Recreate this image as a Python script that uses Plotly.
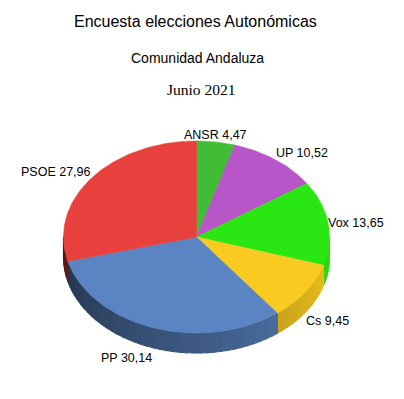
import numpy as np
import plotly.graph_objects as go

# ---- data ----
parties = ["ANSR", "UP", "Vox", "Cs", "PP", "PSOE"]
values = [4.47, 10.52, 13.65, 9.45, 30.14, 27.96]
colors = ["#40bd34", "#b855c9", "#2ae613", "#f9cb21", "#5b85c2", "#e8403c"]
title_main = "Encuesta elecciones Autonómicas"
title_sub = "Comunidad Andaluza"
title_date = "Junio 2021"

# ---- geometry (page pixel space) ----
W, H = 404, 399
PAGE_MARGIN = 8  # default body margin of the html page
CX, CY, RX, RY, DEPTH = 196.5, 237.0, 133.0, 96.0, 20.0


def ell(theta_deg, k=1.0, dy=0.0):
    t = np.radians(theta_deg)
    return CX + RX * k * np.sin(t), CY - RY * k * np.cos(t) + dy


def shade(hex_color, f):
    h = hex_color.lstrip("#")
    r, g, b = (int(h[i:i + 2], 16) for i in (0, 2, 4))
    return "rgb(%d,%d,%d)" % (min(255, r * f), min(255, g * f), min(255, b * f))


total = float(sum(values))
bounds = np.concatenate([[0.0], np.cumsum(values) / total * 360.0])

fig = go.Figure()

# side walls (visible front half: 90..270 degrees clockwise from top)
for i, c in enumerate(colors):
    a0, a1 = max(bounds[i], 90.0), min(bounds[i + 1], 270.0)
    if a1 <= a0:
        continue
    n = max(1, int(np.ceil((a1 - a0) / 3.0)))
    edges = np.linspace(a0, a1, n + 1)
    for j in range(n):
        t = np.linspace(edges[j], edges[j + 1], 3)
        xt, yt = ell(t)
        xb, yb = ell(t[::-1], dy=DEPTH)
        xs = np.concatenate([xt, xb, xt[:1]])
        ys = np.concatenate([yt, yb, yt[:1]])
        mid = 0.5 * (edges[j] + edges[j + 1])
        f = max(0.36, 0.99 - 0.00343 * (mid - 90.0))
        col = shade(c, f)
        fig.add_trace(go.Scatter(x=xs, y=ys, mode="lines", fill="toself",
                                 fillcolor=col, line=dict(color=col, width=1.2),
                                 hoverinfo="skip", showlegend=False))

# top faces
for i, c in enumerate(colors):
    t = np.linspace(bounds[i], bounds[i + 1], max(4, int((bounds[i + 1] - bounds[i]) / 1.0)))
    xa, ya = ell(t)
    xs = np.concatenate([[CX], xa, [CX]])
    ys = np.concatenate([[CY], ya, [CY]])
    fig.add_trace(go.Scatter(x=xs, y=ys, mode="lines", fill="toself",
                             fillcolor=c, line=dict(color=c, width=0.6),
                             hoverinfo="skip", showlegend=False,
                             name=parties[i]))

# labels
annotations = []
for i, p in enumerate(parties):
    mid = 0.5 * (bounds[i] + bounds[i + 1])
    s, co = np.sin(np.radians(mid)), np.cos(np.radians(mid))
    lower = co < 0
    px, py = ell(mid, k=1.0, dy=DEPTH if lower else 0.0)
    px -= 2 * s
    py -= 2 * co
    if s > 0.3:
        xa = "left"
    elif s < -0.3:
        xa = "right"
    else:
        xa = "center"
    if abs(co) > 0.3:
        py = py + 8 if lower else py - 5
    txt = "%s %s" % (p, ("%.2f" % values[i]).replace(".", ","))
    annotations.append(dict(x=px, y=py, xref="x", yref="y", text=txt,
                            showarrow=False, xanchor=xa, yanchor="middle",
                            font=dict(family="Liberation Sans, Arial", size=12.5, color="#000")))

annotations += [
    dict(x=195, y=21, xref="x", yref="y", text=title_main, showarrow=False,
         xanchor="center", yanchor="middle",
         font=dict(family="Liberation Sans, Arial", size=16, color="#000")),
    dict(x=197.5, y=58, xref="x", yref="y", text=title_sub, showarrow=False,
         xanchor="center", yanchor="middle",
         font=dict(family="Liberation Sans, Arial", size=14, color="#000")),
    dict(x=201, y=89, xref="x", yref="y", text=title_date, showarrow=False,
         xanchor="center", yanchor="middle",
         font=dict(family="Liberation Serif, Times New Roman", size=15.5, color="#000")),
]

m = PAGE_MARGIN
fig.update_layout(
    width=W - 2 * m, height=H - 2 * m,
    margin=dict(l=0, r=0, t=0, b=0),
    paper_bgcolor="white", plot_bgcolor="white",
    xaxis=dict(range=[m, W - m], visible=False, fixedrange=True),
    yaxis=dict(range=[H - m, m], visible=False, fixedrange=True),
    annotations=annotations,
    showlegend=False,
)

fig.write_html("out.html")
